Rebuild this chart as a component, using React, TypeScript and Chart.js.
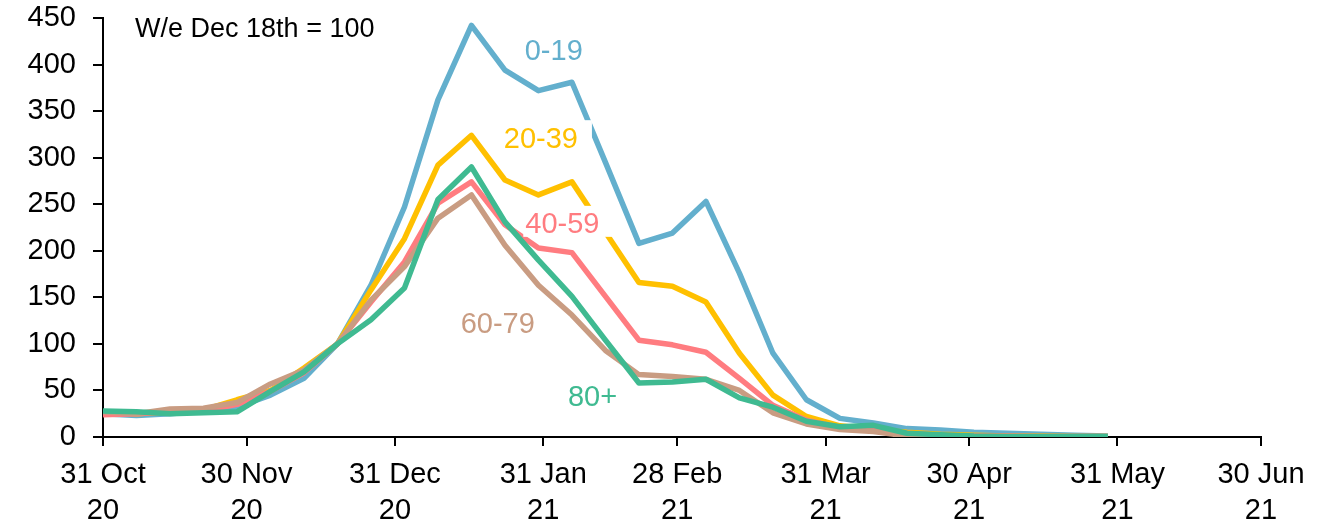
import React, { useEffect, useRef } from "react";
import { Chart, registerables } from "chart.js";

Chart.register(...registerables);

// ---- Data -----------------------------------------------------------------
const AXIS_START = "2020-10-31";

const weekDates = [
  "2020-10-31", "2020-11-07", "2020-11-14", "2020-11-21", "2020-11-28",
  "2020-12-05", "2020-12-12", "2020-12-19", "2020-12-26", "2021-01-02",
  "2021-01-09", "2021-01-16", "2021-01-23", "2021-01-30", "2021-02-06",
  "2021-02-13", "2021-02-20", "2021-02-27", "2021-03-06", "2021-03-13",
  "2021-03-20", "2021-03-27", "2021-04-03", "2021-04-10", "2021-04-17",
  "2021-04-24", "2021-05-01", "2021-05-08", "2021-05-15", "2021-05-22",
  "2021-05-29",
];

const age0to19 = [
  25, 23, 25, 28, 32, 45, 63, 100, 163, 247, 362, 442, 394, 372, 381, 295,
  208, 219, 253, 176, 90, 40, 20, 15, 9, 7.5, 5, 4, 3, 2, 1,
];
const age20to39 = [
  27, 25, 27, 29, 40, 50, 74, 100, 158, 213, 292, 324, 276, 260, 274, 220,
  166, 162, 145, 90, 45, 22, 12, 8, 5, 3, 2, 1, 1, 0.5, 0.5,
];
const age40to59 = [
  24, 25, 27, 28, 35, 49, 69, 100, 145, 188, 251, 274, 228, 203, 198, 151,
  104, 99, 91, 63, 34, 18, 10, 7, 4, 2, 1, 1, 0.5, 0.5, 0.5,
];
const age60to79 = [
  27, 25, 30, 31, 37, 57, 72, 100, 147, 183, 235, 260, 206, 163, 131, 93,
  67, 65, 62, 50, 26, 14, 8, 6, 1, 0, 0, 0, 0, 0, 0,
];
const age80plus = [
  28, 27, 25, 26, 27, 49, 70, 100, 126, 160, 255, 290, 231, 190, 151, 104,
  58, 59, 62, 42, 32, 17, 11, 12.5, 4, 2.5, 1, 0.5, 0.5, 0.5, 0.5,
];

const seriesNames = ["0-19", "20-39", "40-59", "60-79", "80+"];

const tickDates = [
  "2020-10-31", "2020-11-30", "2020-12-31", "2021-01-31", "2021-02-28",
  "2021-03-31", "2021-04-30", "2021-05-31", "2021-06-30",
];
const tickLabels = [
  ["31 Oct", "20"], ["30 Nov", "20"], ["31 Dec", "20"], ["31 Jan", "21"],
  ["28 Feb", "21"], ["31 Mar", "21"], ["30 Apr", "21"], ["31 May", "21"],
  ["30 Jun", "21"],
];

const yMin = 0;
const yMax = 450;
const yStep = 50;

const noteText = "W/e Dec 18th = 100";

// ---- Styles ---------------------------------------------------------------
const COLORS = ["#63AFCD", "#FFC000", "#FF7C80", "#C99C82", "#3FBA91"];
const FONT = "'Liberation Sans', Arial, sans-serif";

const toDay = (d: string) =>
  Math.round((Date.parse(d) - Date.parse(AXIS_START)) / 86400000);

// label anchors in data space (day offset, value)
const seriesLabelPos = [
  { day: 94.2, value: 416 },
  { day: 91.5, value: 322 },
  { day: 96, value: 230 },
  { day: 82.5, value: 123 },
  { day: 102.3, value: 44 },
];
const notePos = { day: 6.7, value: 440 };

const labelPlugin = {
  id: "seriesLabels",
  afterDatasetsDraw(chart: any) {
    const ctx = chart.ctx;
    const xs = chart.scales.x;
    const ys = chart.scales.y;
    ctx.save();
    const size = 29;
    ctx.font = `${size}px ${FONT}`;
    ctx.textBaseline = "alphabetic";
    ctx.textAlign = "left";
    seriesNames.forEach((name, i) => {
      const p = seriesLabelPos[i];
      const cx = xs.getPixelForValue(p.day);
      const cy = ys.getPixelForValue(p.value);
      const w = ctx.measureText(name).width;
      const left = cx - w / 2;
      ctx.fillStyle = "#ffffff";
      ctx.fillRect(left - 2, cy - 17, w + 16, 31);
      ctx.fillStyle = COLORS[i];
      ctx.fillText(name, left, cy + size * 0.358);
    });
    const nsize = 27;
    ctx.font = `${nsize}px ${FONT}`;
    ctx.fillStyle = "#000000";
    ctx.fillText(
      noteText,
      xs.getPixelForValue(notePos.day),
      ys.getPixelForValue(notePos.value) + nsize * 0.358
    );
    ctx.restore();
  },
};

export default function App() {
  const ref = useRef<HTMLCanvasElement | null>(null);

  useEffect(() => {
    if (!ref.current) return;
    const xVals = weekDates.map(toDay);
    const all = [age0to19, age20to39, age40to59, age60to79, age80plus];
    const tickVals = tickDates.map(toDay);

    const chart = new Chart(ref.current, {
      type: "line",
      data: {
        datasets: all.map((vals, i) => ({
          label: seriesNames[i],
          data: vals.map((v, j) => ({ x: xVals[j], y: v })),
          borderColor: COLORS[i],
          backgroundColor: COLORS[i],
          borderWidth: 5.5,
          pointRadius: 0,
          tension: 0,
          fill: false,
          borderJoinStyle: "round" as const,
          order: 4 - i,
        })),
      },
      options: {
        responsive: false,
        animation: false,
        devicePixelRatio: 1,
        layout: { padding: { left: 0, right: 80, top: 18, bottom: 0 } },
        plugins: {
          legend: { display: false },
          tooltip: { enabled: false },
        },
        scales: {
          x: {
            type: "linear",
            min: tickVals[0],
            max: tickVals[tickVals.length - 1],
            afterBuildTicks: (scale: any) => {
              scale.ticks = tickVals.map((v) => ({ value: v }));
            },
            afterFit: (scale: any) => {
              scale.height = 92;
              scale.paddingLeft = 0;
              scale.paddingRight = 0;
            },
            ticks: {
              autoSkip: false,
              maxRotation: 0,
              minRotation: 0,
              color: "#000",
              padding: 11,
              font: { family: FONT, size: 29, lineHeight: 1.24 },
              callback: (_v: any, idx: number) => tickLabels[idx],
            },
            grid: {
              display: true,
              drawOnChartArea: false,
              drawTicks: true,
              tickLength: 9,
              color: "#000",
              lineWidth: 2,
            },
            border: { display: true, color: "#000", width: 2 },
          },
          y: {
            type: "linear",
            min: yMin,
            max: yMax,
            afterFit: (scale: any) => {
              scale.width = 103;
              scale.paddingTop = 0;
              scale.paddingBottom = 0;
            },
            ticks: {
              stepSize: yStep,
              color: "#000",
              padding: 17,
              font: { family: FONT, size: 29 },
            },
            grid: {
              display: true,
              drawOnChartArea: false,
              drawTicks: true,
              tickLength: 10,
              color: "#000",
              lineWidth: 2,
            },
            border: { display: true, color: "#000", width: 2 },
          },
        },
      },
      plugins: [labelPlugin],
    } as any);

    return () => chart.destroy();
  }, []);

  return (
    <div style={{ position: "absolute", left: 0, top: 0, width: 1341, height: 529, background: "#fff" }}>
      <canvas ref={ref} width={1341} height={529} />
    </div>
  );
}
